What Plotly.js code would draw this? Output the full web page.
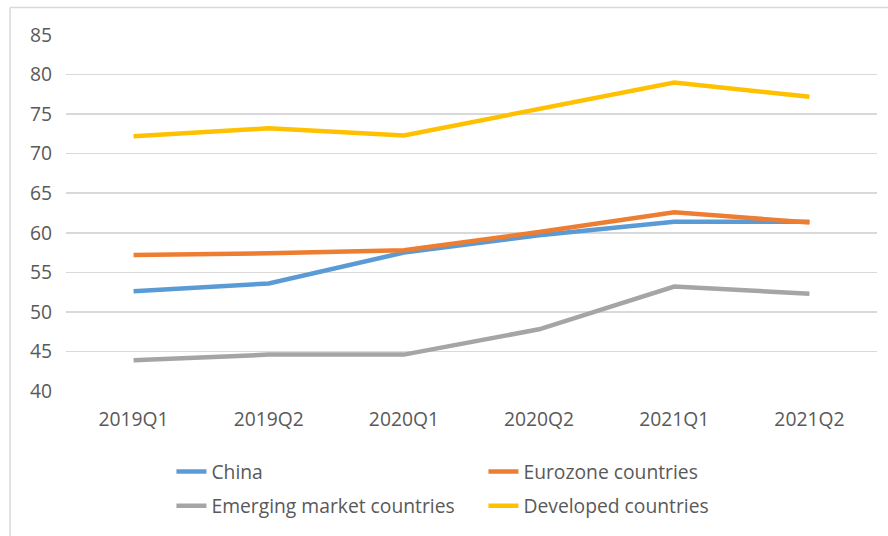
<!DOCTYPE html>
<html>
<head>
<meta charset="utf-8">
<script src="https://cdn.plot.ly/plotly-3.0.1.min.js"></script>
<style>html,body{margin:0;padding:0;background:#fff;}#chart{width:888px;height:536px;}</style>
</head>
<body>
<div id="chart"></div>
<script>
const categories = ["2019Q1", "2019Q2", "2020Q1", "2020Q2", "2021Q1", "2021Q2"];
const china = [52.6, 53.6, 57.5, 59.7, 61.4, 61.4];
const eurozone = [57.2, 57.4, 57.8, 60.1, 62.6, 61.3];
const emerging = [43.9, 44.6, 44.6, 47.8, 53.2, 52.3];
const developed = [72.2, 73.2, 72.3, 75.7, 79.0, 77.2];
const seriesNames = ["China", "Eurozone countries", "Emerging market countries", "Developed countries"];
const yTicks = [40, 45, 50, 55, 60, 65, 70, 75, 80, 85];

const colors = ["#5B9BD5", "#ED7D31", "#A5A5A5", "#FFC000"];
const values = [china, eurozone, emerging, developed];
const legendIds = ["legend", "legend", "legend2", "legend2"];

const traces = values.map((v, i) => ({
  type: "scatter",
  mode: "lines",
  x: categories,
  y: v,
  name: seriesNames[i],
  line: {color: colors[i], width: 4.5},
  legend: legendIds[i],
  hoverinfo: "x+y+name"
}));

const font = {family: "Open Sans, sans-serif", size: 19.3, color: "#595959"};
const legendBase = {
  orientation: "h",
  xanchor: "left",
  yanchor: "middle",
  x: 0.13,
  font: font,
  entrywidth: 267,
  bgcolor: "rgba(0,0,0,0)",
  traceorder: "normal"
};

const layout = {
  width: 888,
  height: 536,
  margin: {l: 66, r: 11, t: 34.5, b: 144},
  paper_bgcolor: "#fff",
  plot_bgcolor: "#fff",
  font: font,
  showlegend: true,
  xaxis: {
    type: "category",
    range: [-0.5, 5.5],
    showgrid: false,
    zeroline: false,
    showline: false,
    ticks: "",
    ticklabelstandoff: 15,
    tickfont: font,
    fixedrange: true
  },
  yaxis: {
    range: [40, 85],
    tickvals: yTicks,
    ticktext: yTicks.map(String),
    showgrid: true,
    gridcolor: "#d9d9d9",
    gridwidth: 1.5,
    zeroline: false,
    showline: false,
    ticks: "",
    ticklabelstandoff: 13,
    tickfont: font,
    fixedrange: true
  },
  legend: Object.assign({}, legendBase, {y: -0.224}),
  legend2: Object.assign({}, legendBase, {y: -0.32}),
  shapes: [
    {type: "line", xref: "paper", yref: "paper", x0: -0.069, x1: 1.1, y0: 1.077, y1: 1.077, line: {color: "#d9d9d9", width: 1.5}, layer: "below"},
    {type: "line", xref: "paper", yref: "paper", x0: -0.069, x1: -0.069, y0: 1.077, y1: -0.5, line: {color: "#d9d9d9", width: 1.5}, layer: "below"}
  ]
};

Plotly.newPlot("chart", traces, layout, {displayModeBar: false, staticPlot: true});
</script>
</body>
</html>
